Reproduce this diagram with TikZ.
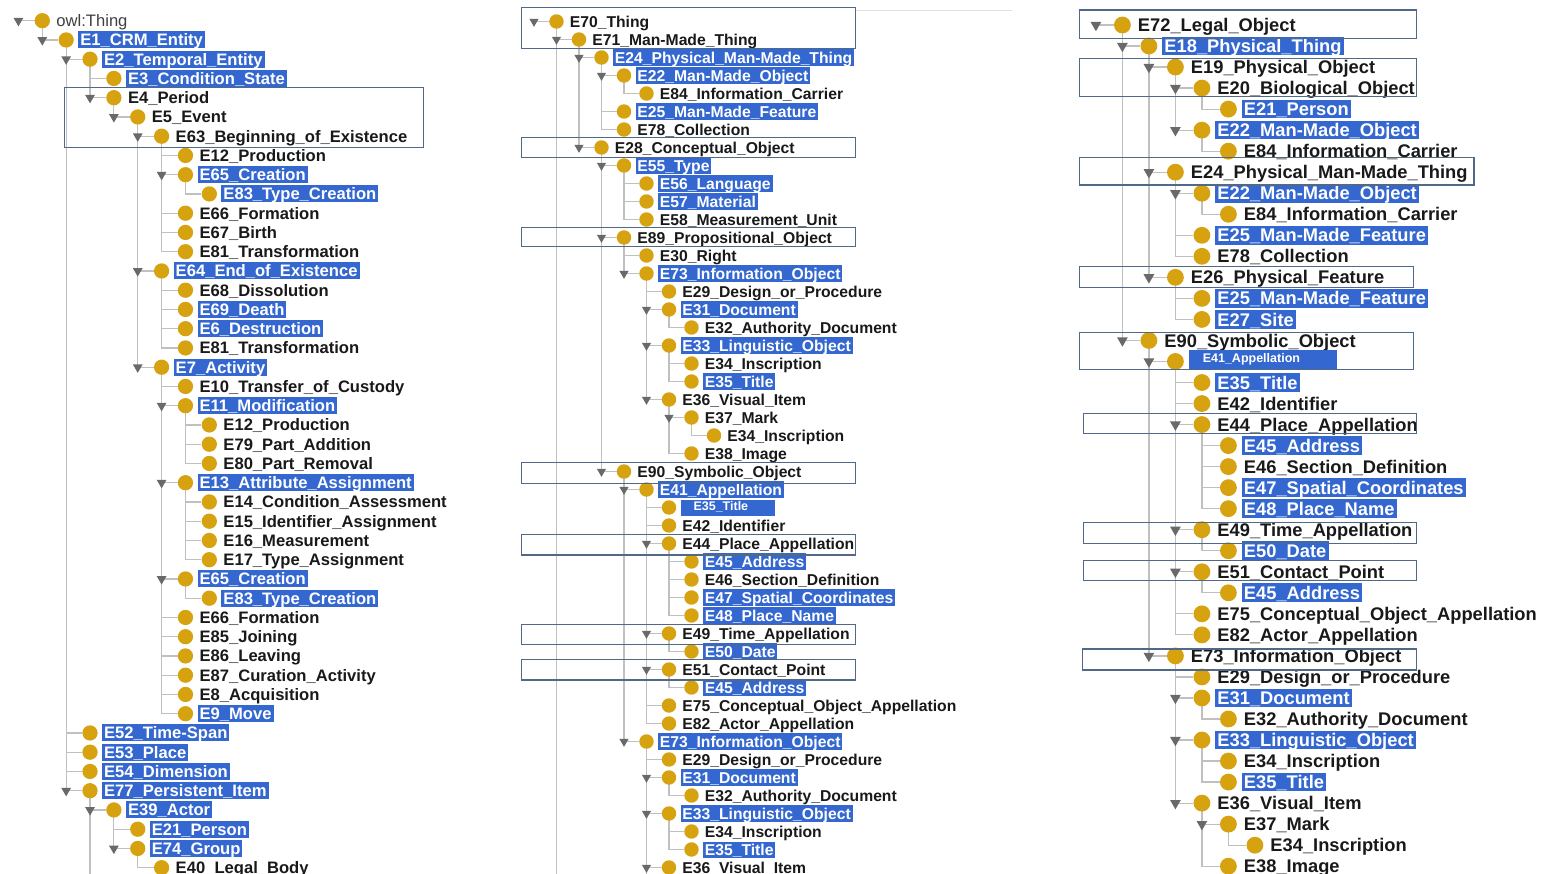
\documentclass[tikz,border=0pt]{standalone}
\usepackage{fontspec}
\setmainfont{Liberation Sans}
\usetikzlibrary{shapes.geometric}
\definecolor{hlc}{RGB}{52,104,208}
\definecolor{dotc}{RGB}{214,162,16}
\definecolor{togc}{RGB}{105,105,105}
\definecolor{linec}{RGB}{192,192,192}
\definecolor{framec}{RGB}{80,105,135}
\pgfdeclarelayer{bg}
\pgfsetlayers{bg,main}
\newcommand\SetCol[5]{%
 \def\colx{#1}\def\colind{#2}\def\coly{#3}\def\coldy{#4}\def\Cfs{#5}%
 \pgfmathsetmacro\Cdot{0.92*#5}%
 \pgfmathsetmacro\Cgap{0.72*#5}%
 \pgfmathsetmacro\Cth{0.84*#5}%
 \pgfmathsetmacro\Ctd{0.12*#5}%
 \pgfmathsetmacro\Cys{0.03*#5}%
 \pgfmathsetmacro\Cxs{0.12*#5}%
 \pgfmathsetmacro\Ctg{0.68*#5}}
\newcommand\Item[5]{%
 \pgfmathsetmacro\Cxx{\colx+\colind*#3}%
 \pgfmathsetmacro\Cyy{\coly+\coldy*#2}%
 \node[dot] (#1) at (\Cxx,\Cyy) {};
 \node[#4] (#1t) at ([xshift=\Cgap pt]#1.center) {#5};}
\newcommand\Tg[1]{\foreach \k in {#1}{\node[tog] (tg\k) at ([xshift=-\colind pt]\k.center) {};}}
\newcommand\Cn[2]{\foreach \k in {#2}{\draw[tree] (#1.center) |- (\k.west);}}
\tikzset{
 dot/.style={circle, fill=dotc, minimum size=\Cdot pt, inner sep=0pt},
 tog/.style={regular polygon, regular polygon sides=3, shape border rotate=180, fill=togc, minimum size=\Ctg pt, inner sep=0pt},
 lbl/.style={anchor=west, font=\fontsize{\Cfs pt}{\Cfs pt}\selectfont\bfseries, text=black!90, text height=\Cth pt, text depth=\Ctd pt, inner ysep=\Cys pt, inner xsep=\Cxs pt},
 hl/.style={lbl, fill=hlc, text=white},
 root/.style={lbl, font=\fontsize{\Cfs pt}{\Cfs pt}\selectfont, text=black!75},
 sm/.style 2 args={anchor=west, fill=hlc, text=white, font=\fontsize{12.5pt}{13pt}\selectfont\bfseries, text height=9pt, text depth=2.5pt, inner xsep=2pt, inner ysep=0pt, minimum height=#1pt, text width=#2pt, align=left},
 tree/.style={draw=linec, line width=1.2pt},
 frame/.style={draw=framec, line width=1.3pt},
}
\begin{document}
\begin{tikzpicture}[x=1pt, y=-1pt]
\begin{pgfonlayer}{bg}
\fill[white] (0,0) rectangle (1541,874);
\end{pgfonlayer}
\useasboundingbox (0,0) rectangle (1541,874);
\path (0,880) coordinate (bot);
% ---------------- column 1 ----------------
\SetCol{42.3}{23.86}{20.7}{19.25}{16.6}
\Item{a0}{0}{0}{root}{owl:Thing}
\Item{a1}{1}{1}{hl}{E1\_CRM\_Entity}
\Item{a2}{2}{2}{hl}{E2\_Temporal\_Entity}
\Item{a3}{3}{3}{hl}{E3\_Condition\_State}
\Item{a4}{4}{3}{lbl}{E4\_Period}
\Item{a5}{5}{4}{lbl}{E5\_Event}
\Item{a6}{6}{5}{lbl}{E63\_Beginning\_of\_Existence}
\Item{a7}{7}{6}{lbl}{E12\_Production}
\Item{a8}{8}{6}{hl}{E65\_Creation}
\Item{a9}{9}{7}{hl}{E83\_Type\_Creation}
\Item{a10}{10}{6}{lbl}{E66\_Formation}
\Item{a11}{11}{6}{lbl}{E67\_Birth}
\Item{a12}{12}{6}{lbl}{E81\_Transformation}
\Item{a13}{13}{5}{hl}{E64\_End\_of\_Existence}
\Item{a14}{14}{6}{lbl}{E68\_Dissolution}
\Item{a15}{15}{6}{hl}{E69\_Death}
\Item{a16}{16}{6}{hl}{E6\_Destruction}
\Item{a17}{17}{6}{lbl}{E81\_Transformation}
\Item{a18}{18}{5}{hl}{E7\_Activity}
\Item{a19}{19}{6}{lbl}{E10\_Transfer\_of\_Custody}
\Item{a20}{20}{6}{hl}{E11\_Modification}
\Item{a21}{21}{7}{lbl}{E12\_Production}
\Item{a22}{22}{7}{lbl}{E79\_Part\_Addition}
\Item{a23}{23}{7}{lbl}{E80\_Part\_Removal}
\Item{a24}{24}{6}{hl}{E13\_Attribute\_Assignment}
\Item{a25}{25}{7}{lbl}{E14\_Condition\_Assessment}
\Item{a26}{26}{7}{lbl}{E15\_Identifier\_Assignment}
\Item{a27}{27}{7}{lbl}{E16\_Measurement}
\Item{a28}{28}{7}{lbl}{E17\_Type\_Assignment}
\Item{a29}{29}{6}{hl}{E65\_Creation}
\Item{a30}{30}{7}{hl}{E83\_Type\_Creation}
\Item{a31}{31}{6}{lbl}{E66\_Formation}
\Item{a32}{32}{6}{lbl}{E85\_Joining}
\Item{a33}{33}{6}{lbl}{E86\_Leaving}
\Item{a34}{34}{6}{lbl}{E87\_Curation\_Activity}
\Item{a35}{35}{6}{lbl}{E8\_Acquisition}
\Item{a36}{36}{6}{hl}{E9\_Move}
\Item{a37}{37}{2}{hl}{E52\_Time-Span}
\Item{a38}{38}{2}{hl}{E53\_Place}
\Item{a39}{39}{2}{hl}{E54\_Dimension}
\Item{a40}{40}{2}{hl}{E77\_Persistent\_Item}
\Item{a41}{41}{3}{hl}{E39\_Actor}
\Item{a42}{42}{4}{hl}{E21\_Person}
\Item{a43}{43}{4}{hl}{E74\_Group}
\Item{a44}{44}{5}{lbl}{E40\_Legal\_Body}
\Tg{a0,a1,a2,a4,a5,a6,a8,a13,a18,a20,a24,a29,a40,a41,a43}
\begin{pgfonlayer}{bg}
\draw[tree] (tga0.center) -- (a0.center);
\Cn{a0}{a1}
\Cn{a1}{a2,a37,a38,a39,a40}
\Cn{a2}{a3,a4}
\Cn{a4}{a5}
\Cn{a5}{a6,a13,a18}
\Cn{a6}{a7,a8,a10,a11,a12}
\Cn{a8}{a9}
\Cn{a13}{a14,a15,a16,a17}
\Cn{a18}{a19,a20,a24,a29,a31,a32,a33,a34,a35,a36}
\Cn{a20}{a21,a22,a23}
\Cn{a24}{a25,a26,a27,a28}
\Cn{a29}{a30}
\Cn{a40}{a41}
\draw[tree] (a40.center) -- (a40 |- bot);
\Cn{a41}{a42,a43}
\Cn{a43}{a44}
\end{pgfonlayer}
% ---------------- column 2 ----------------
\SetCol{556.5}{22.5}{21.5}{18.0}{15.7}
\Item{b0}{0}{0}{lbl}{E70\_Thing}
\Item{b1}{1}{1}{lbl}{E71\_Man-Made\_Thing}
\Item{b2}{2}{2}{hl}{E24\_Physical\_Man-Made\_Thing}
\Item{b3}{3}{3}{hl}{E22\_Man-Made\_Object}
\Item{b4}{4}{4}{lbl}{E84\_Information\_Carrier}
\Item{b5}{5}{3}{hl}{E25\_Man-Made\_Feature}
\Item{b6}{6}{3}{lbl}{E78\_Collection}
\Item{b7}{7}{2}{lbl}{E28\_Conceptual\_Object}
\Item{b8}{8}{3}{hl}{E55\_Type}
\Item{b9}{9}{4}{hl}{E56\_Language}
\Item{b10}{10}{4}{hl}{E57\_Material}
\Item{b11}{11}{4}{lbl}{E58\_Measurement\_Unit}
\Item{b12}{12}{3}{lbl}{E89\_Propositional\_Object}
\Item{b13}{13}{4}{lbl}{E30\_Right}
\Item{b14}{14}{4}{hl}{E73\_Information\_Object}
\Item{b15}{15}{5}{lbl}{E29\_Design\_or\_Procedure}
\Item{b16}{16}{5}{hl}{E31\_Document}
\Item{b17}{17}{6}{lbl}{E32\_Authority\_Document}
\Item{b18}{18}{5}{hl}{E33\_Linguistic\_Object}
\Item{b19}{19}{6}{lbl}{E34\_Inscription}
\Item{b20}{20}{6}{hl}{E35\_Title}
\Item{b21}{21}{5}{lbl}{E36\_Visual\_Item}
\Item{b22}{22}{6}{lbl}{E37\_Mark}
\Item{b23}{23}{7}{lbl}{E34\_Inscription}
\Item{b24}{24}{6}{lbl}{E38\_Image}
\Item{b25}{25}{3}{lbl}{E90\_Symbolic\_Object}
\Item{b26}{26}{4}{hl}{E41\_Appellation}
\Item{b27}{27}{5}{sm={16}{90}}{\hspace*{11pt}E35\_Title}
\Item{b28}{28}{5}{lbl}{E42\_Identifier}
\Item{b29}{29}{5}{lbl}{E44\_Place\_Appellation}
\Item{b30}{30}{6}{hl}{E45\_Address}
\Item{b31}{31}{6}{lbl}{E46\_Section\_Definition}
\Item{b32}{32}{6}{hl}{E47\_Spatial\_Coordinates}
\Item{b33}{33}{6}{hl}{E48\_Place\_Name}
\Item{b34}{34}{5}{lbl}{E49\_Time\_Appellation}
\Item{b35}{35}{6}{hl}{E50\_Date}
\Item{b36}{36}{5}{lbl}{E51\_Contact\_Point}
\Item{b37}{37}{6}{hl}{E45\_Address}
\Item{b38}{38}{5}{lbl}{E75\_Conceptual\_Object\_Appellation}
\Item{b39}{39}{5}{lbl}{E82\_Actor\_Appellation}
\Item{b40}{40}{4}{hl}{E73\_Information\_Object}
\Item{b41}{41}{5}{lbl}{E29\_Design\_or\_Procedure}
\Item{b42}{42}{5}{hl}{E31\_Document}
\Item{b43}{43}{6}{lbl}{E32\_Authority\_Document}
\Item{b44}{44}{5}{hl}{E33\_Linguistic\_Object}
\Item{b45}{45}{6}{lbl}{E34\_Inscription}
\Item{b46}{46}{6}{hl}{E35\_Title}
\Item{b47}{47}{5}{lbl}{E36\_Visual\_Item}
\Tg{b0,b1,b2,b3,b7,b8,b12,b14,b16,b18,b21,b22,b25,b26,b29,b34,b36,b40,b42,b44,b47}
\begin{pgfonlayer}{bg}
\draw[tree] (tgb0.center) -- (b0.center);
\Cn{b0}{b1}
\draw[tree] (b0.center) -- (b0 |- bot);
\Cn{b1}{b2,b7}
\Cn{b2}{b3,b5,b6}
\Cn{b3}{b4}
\Cn{b7}{b8,b12,b25}
\Cn{b8}{b9,b10,b11}
\Cn{b12}{b13,b14}
\Cn{b14}{b15,b16,b18,b21}
\Cn{b16}{b17}
\Cn{b18}{b19,b20}
\Cn{b21}{b22,b24}
\Cn{b22}{b23}
\Cn{b25}{b26,b40}
\Cn{b26}{b27,b28,b29,b34,b36,b38,b39}
\Cn{b29}{b30,b31,b32,b33}
\Cn{b34}{b35}
\Cn{b36}{b37}
\Cn{b40}{b41,b42,b44,b47}
\draw[tree] (b40.center) -- (b40 |- bot);
\Cn{b42}{b43}
\Cn{b44}{b45,b46}
\end{pgfonlayer}
% ---------------- column 3 ----------------
\SetCol{1122.4}{26.5}{25}{21.03}{18.3}
\Item{c0}{0}{0}{lbl}{E72\_Legal\_Object}
\Item{c1}{1}{1}{hl}{E18\_Physical\_Thing}
\Item{c2}{2}{2}{lbl}{E19\_Physical\_Object}
\Item{c3}{3}{3}{lbl}{E20\_Biological\_Object}
\Item{c4}{4}{4}{hl}{E21\_Person}
\Item{c5}{5}{3}{hl}{E22\_Man-Made\_Object}
\Item{c6}{6}{4}{lbl}{E84\_Information\_Carrier}
\Item{c7}{7}{2}{lbl}{E24\_Physical\_Man-Made\_Thing}
\Item{c8}{8}{3}{hl}{E22\_Man-Made\_Object}
\Item{c9}{9}{4}{lbl}{E84\_Information\_Carrier}
\Item{c10}{10}{3}{hl}{E25\_Man-Made\_Feature}
\Item{c11}{11}{3}{lbl}{E78\_Collection}
\Item{c12}{12}{2}{lbl}{E26\_Physical\_Feature}
\Item{c13}{13}{3}{hl}{E25\_Man-Made\_Feature}
\Item{c14}{14}{3}{hl}{E27\_Site}
\Item{c15}{15}{1}{lbl}{E90\_Symbolic\_Object}
\Item{c16}{16}{2}{sm={19}{144},yshift=2pt}{\hspace*{12pt}E41\_Appellation}
\Item{c17}{17}{3}{hl}{E35\_Title}
\Item{c18}{18}{3}{lbl}{E42\_Identifier}
\Item{c19}{19}{3}{lbl}{E44\_Place\_Appellation}
\Item{c20}{20}{4}{hl}{E45\_Address}
\Item{c21}{21}{4}{lbl}{E46\_Section\_Definition}
\Item{c22}{22}{4}{hl}{E47\_Spatial\_Coordinates}
\Item{c23}{23}{4}{hl}{E48\_Place\_Name}
\Item{c24}{24}{3}{lbl}{E49\_Time\_Appellation}
\Item{c25}{25}{4}{hl}{E50\_Date}
\Item{c26}{26}{3}{lbl}{E51\_Contact\_Point}
\Item{c27}{27}{4}{hl}{E45\_Address}
\Item{c28}{28}{3}{lbl}{E75\_Conceptual\_Object\_Appellation}
\Item{c29}{29}{3}{lbl}{E82\_Actor\_Appellation}
\Item{c30}{30}{2}{lbl}{E73\_Information\_Object}
\Item{c31}{31}{3}{lbl}{E29\_Design\_or\_Procedure}
\Item{c32}{32}{3}{hl}{E31\_Document}
\Item{c33}{33}{4}{lbl}{E32\_Authority\_Document}
\Item{c34}{34}{3}{hl}{E33\_Linguistic\_Object}
\Item{c35}{35}{4}{lbl}{E34\_Inscription}
\Item{c36}{36}{4}{hl}{E35\_Title}
\Item{c37}{37}{3}{lbl}{E36\_Visual\_Item}
\Item{c38}{38}{4}{lbl}{E37\_Mark}
\Item{c39}{39}{5}{lbl}{E34\_Inscription}
\Item{c40}{40}{4}{lbl}{E38\_Image}
\Tg{c0,c1,c2,c3,c5,c7,c8,c12,c15,c16,c19,c24,c26,c30,c32,c34,c37,c38}
\begin{pgfonlayer}{bg}
\draw[tree] (tgc0.center) -- (c0.center);
\Cn{c0}{c1,c15}
\Cn{c1}{c2,c7,c12}
\Cn{c2}{c3,c5}
\Cn{c3}{c4}
\Cn{c5}{c6}
\Cn{c7}{c8,c10,c11}
\Cn{c8}{c9}
\Cn{c12}{c13,c14}
\Cn{c15}{c16,c30}
\Cn{c16}{c17,c18,c19,c24,c26,c28,c29}
\Cn{c19}{c20,c21,c22,c23}
\Cn{c24}{c25}
\Cn{c26}{c27}
\Cn{c30}{c31,c32,c34,c37}
\Cn{c32}{c33}
\Cn{c34}{c35,c36}
\Cn{c37}{c38,c40}
\Cn{c38}{c39}
\end{pgfonlayer}
% ---------------- frames ----------------
\draw[frame] (64.3,87.3) rectangle (423.3,147.3);
\draw[frame] (521.7,7.3) rectangle (855.7,48.3);
\draw[frame] (521.7,137.3) rectangle (855.7,157.3);
\draw[frame] (521.7,227.7) rectangle (855.7,246.7);
\draw[frame] (521.7,462.7) rectangle (855.7,483.3);
\draw[frame] (521.7,534.3) rectangle (855.7,555);
\draw[frame] (521.7,624.3) rectangle (855.7,644.3);
\draw[frame] (521.7,659.3) rectangle (855.7,680);
\draw[draw=black!12, line width=1pt] (856,11) -- (1012,11);
\draw[frame] (1079.3,10) rectangle (1416.7,38.3);
\draw[frame] (1079.3,58.3) rectangle (1416.7,96.7);
\draw[frame] (1079.3,157.3) rectangle (1474,185);
\draw[frame] (1079.3,266.7) rectangle (1413.3,287.3);
\draw[frame] (1079.3,332.3) rectangle (1413.3,369.3);
\draw[frame] (1083.3,413.3) rectangle (1416.7,433.3);
\draw[frame] (1083.3,522.3) rectangle (1416.7,543.3);
\draw[frame] (1083.3,560.7) rectangle (1416.7,580.7);
\draw[frame] (1082.7,649) rectangle (1416.7,670);
\end{tikzpicture}
\end{document}
